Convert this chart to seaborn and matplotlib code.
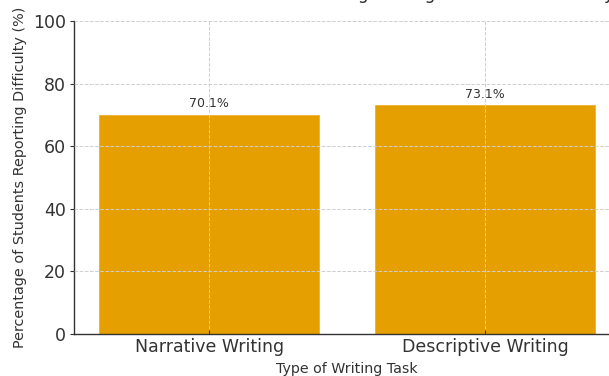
import matplotlib
matplotlib.use("Agg")
import matplotlib.pyplot as plt
import seaborn as sns
import pandas as pd

categories = ["Narrative Writing", "Descriptive Writing"]
values = [70.1, 73.1]
labels = ["70.1%", "73.1%"]
yticks = [0, 20, 40, 60, 80, 100]

sns.set_style("white")
plt.rcParams["font.family"] = ["DejaVu Sans"]

W, H = 609, 376
fig = plt.figure(figsize=(W / 100, H / 100), dpi=100)
left, right, bottom, top = 74, 620, 334, 21
ax = fig.add_axes([left / W, (H - bottom) / H, (right - left) / W, (bottom - top) / H])

df = pd.DataFrame({"Task": categories, "Pct": values})
sns.barplot(data=df, x="Task", y="Pct", color="#E69F00", saturation=1, width=0.8,
            edgecolor="#F0B030", linewidth=0.6, ax=ax)

ax.set_xlim(-0.49, 1.49)
ax.set_ylim(0, 100)
ax.set_yticks(yticks)
ax.set_axisbelow(False)
ax.grid(True, axis="both", linestyle="--", color="#cfcfcf", linewidth=0.7)

for i, (v, t) in enumerate(zip(values, labels)):
    ax.text(i, v + 1.5, t, ha="center", va="bottom", fontsize=9, color="#333333")

for s in ["top", "right"]:
    ax.spines[s].set_visible(False)
for s in ["left", "bottom"]:
    ax.spines[s].set_color("#333333")
    ax.spines[s].set_linewidth(1.0)

ax.tick_params(axis="both", labelsize=12.5, colors="#333333", width=0.8)
ax.tick_params(axis="y", direction="out", length=3, pad=3, left=True)
ax.tick_params(axis="x", direction="in", length=3, pad=3, bottom=True)
ax.set_xlabel("Type of Writing Task", fontsize=10.3, color="#333333", labelpad=4)
ax.set_ylabel("Percentage of Students Reporting Difficulty (%)", fontsize=10.4,
              color="#333333", labelpad=4)

fig.text(225 / W, 1 + 1 / H, "Students Finding Writing Tasks Difficult Today",
         ha="left", va="baseline", fontsize=12.3, color="#333333")

fig.savefig("out.png", dpi=100)
